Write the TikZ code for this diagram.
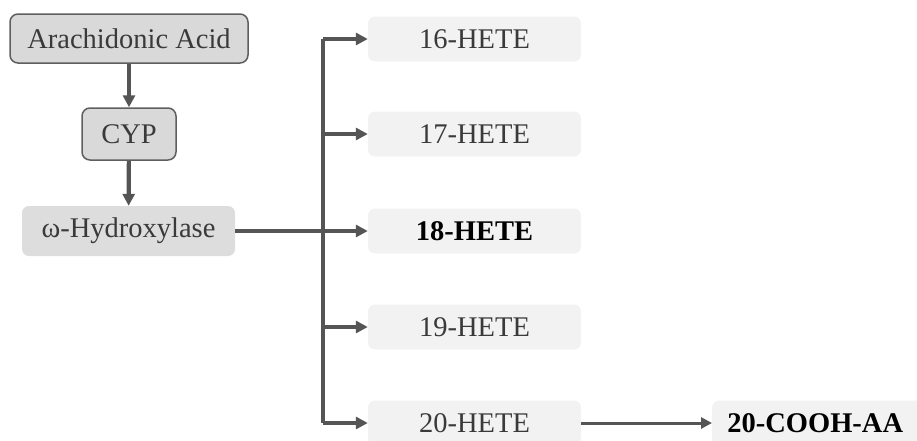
\documentclass[tikz,border=0pt]{standalone}
\usepackage{fontspec}
\setmainfont{Liberation Serif}
\usetikzlibrary{arrows.meta}
\definecolor{boxgray}{HTML}{D9D9D9}
\definecolor{omgray}{HTML}{DDDDDD}
\definecolor{hetegray}{HTML}{F2F2F2}
\definecolor{edgegray}{HTML}{5F5F5F}
\definecolor{arrgray}{HTML}{555555}
\definecolor{txtgray}{HTML}{3A3A3A}
\tikzset{
  srcbox/.style={draw=edgegray, line width=1.5pt, fill=boxgray, rounded corners=8pt, text=txtgray, inner sep=0pt, font=\fontsize{28.5}{32}\selectfont},
  ombox/.style={fill=omgray, rounded corners=7pt, text=txtgray, inner sep=0pt, minimum width=213pt, minimum height=50pt, font=\fontsize{28.5}{32}\selectfont},
  hetebox/.style={fill=hetegray, rounded corners=7pt, text=txtgray, inner sep=0pt, minimum width=213pt, minimum height=45pt, font=\fontsize{28.5}{32}\selectfont},
  boldbox/.style={hetebox, text=black, font=\fontsize{28.5}{32}\selectfont\bfseries},
  flow/.style={draw=arrgray, line width=4.2pt, -{Triangle[length=12pt,width=12pt]}},
  thinflow/.style={draw=arrgray, line width=3pt, -{Triangle[length=11pt,width=11pt]}},
  trunk/.style={draw=arrgray, line width=4.2pt}
}
\begin{document}
\begin{tikzpicture}[x=1pt,y=-1pt]
\useasboundingbox (0,0) rectangle (917,440);
\begin{scope}
\clip (0,0) rectangle (917,440);
\node[srcbox, minimum width=238pt, minimum height=49pt] (aa) at (129,38.5) {Arachidonic Acid};
\node[srcbox, minimum width=94pt, minimum height=52pt] (cyp) at (129,134) {CYP};
\node[ombox] (om) at (128.5,231) {ω-Hydroxylase};
\node[hetebox] (h16) at (474.5,39) {16-HETE};
\node[hetebox] (h17) at (474.5,134) {17-HETE};
\node[boldbox] (h18) at (474.5,231) {18-HETE};
\node[hetebox] (h19) at (474.5,327) {19-HETE};
\node[hetebox] (h20) at (474.5,423) {20-HETE};
\node[boldbox, minimum width=220pt, anchor=west] (cooh) at (712,423) {\hspace*{-14pt}20-COOH-AA};
\coordinate (ttop) at (323,39);
\coordinate (tbot) at (323,423);
\draw[flow] (aa) -- (cyp);
\draw[flow] (cyp) -- (om);
\draw[trunk] (ttop) -- (tbot);
\draw[flow] (om.east) -- (h18.west);
\draw[flow] (ttop) -- (h16.west);
\draw[flow] (323,134) -- (h17.west);
\draw[flow] (323,327) -- (h19.west);
\draw[flow] (tbot) -- (h20.west);
\draw[thinflow] (h20.east) -- (cooh.west);
\end{scope}
\end{tikzpicture}
\end{document}
